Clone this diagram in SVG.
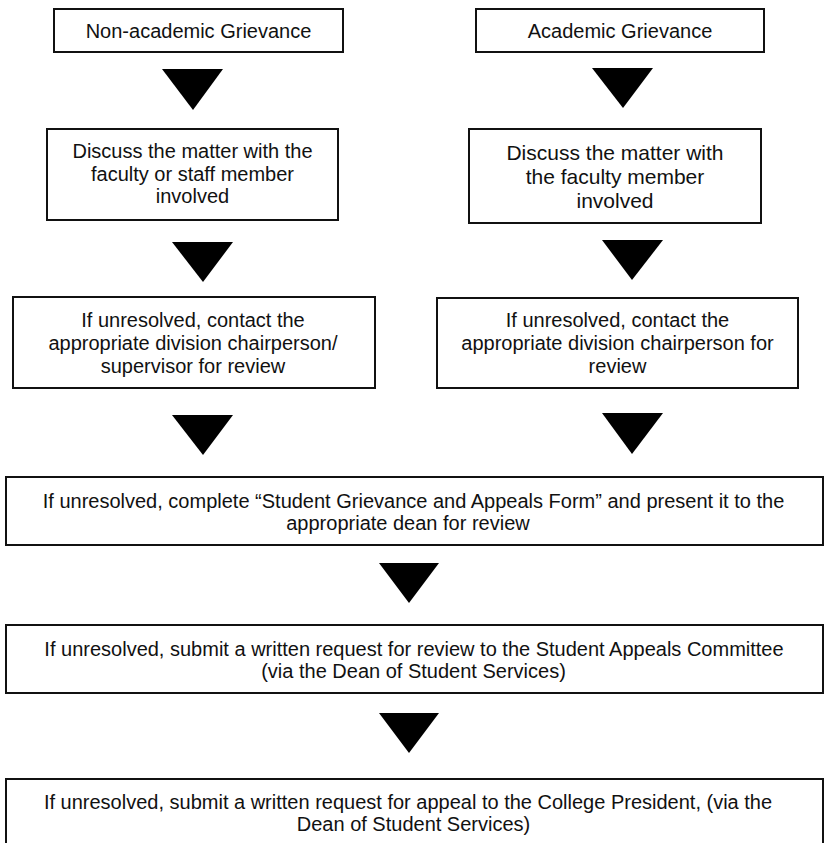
<svg xmlns="http://www.w3.org/2000/svg" width="825" height="843" viewBox="0 0 825 843">
  <style>
    .box { fill: #ffffff; stroke: #111111; stroke-width: 2; }
    .tx { font-family: "Liberation Sans", Arial, sans-serif; font-size: 20px; fill: #111111; text-anchor: middle; }
    .big { font-size: 21px; }
    .arrow { fill: #000000; stroke: none; }
  </style>
  <rect x="0" y="0" width="825" height="843" fill="#ffffff"/>

  <g id="connectors">
    <polygon class="arrow" points="162,69 223,69 193,110"/>
    <polygon class="arrow" points="172,242 233,242 203,282"/>
    <polygon class="arrow" points="172,415 233,415 203,455"/>
    <polygon class="arrow" points="592,68 653,68 623,108"/>
    <polygon class="arrow" points="602,240 663,240 632,280"/>
    <polygon class="arrow" points="602,413 663,413 632,454"/>
    <polygon class="arrow" points="379,563 439,563 409,603"/>
    <polygon class="arrow" points="379,713 439,713 409,753"/>
  </g>

  <g id="non-academic">
    <rect class="box" x="54" y="9" width="289" height="43"/>
    <text class="tx" x="198.5" y="38">Non-academic Grievance</text>
  </g>

  <g id="discuss-faculty-staff">
    <rect class="box" x="47" y="129" width="291" height="91"/>
    <text class="tx" x="192.5" y="157.5">Discuss the matter with the</text>
    <text class="tx" x="192.5" y="180.5">faculty or staff member</text>
    <text class="tx" x="192.5" y="203">involved</text>
  </g>

  <g id="contact-chair-supervisor">
    <rect class="box" x="13" y="297" width="362" height="91"/>
    <text class="tx" x="193" y="327">If unresolved, contact the</text>
    <text class="tx" x="193" y="350">appropriate division chairperson/</text>
    <text class="tx" x="193" y="373">supervisor for review</text>
  </g>

  <g id="academic">
    <rect class="box" x="476" y="9" width="288" height="43"/>
    <text class="tx" x="620" y="38">Academic Grievance</text>
  </g>

  <g id="discuss-faculty">
    <rect class="box" x="469" y="129" width="292" height="94"/>
    <text class="tx big" x="615" y="160">Discuss the matter with</text>
    <text class="tx big" x="615" y="184">the faculty member</text>
    <text class="tx big" x="615" y="208">involved</text>
  </g>

  <g id="contact-chair">
    <rect class="box" x="437" y="298" width="361" height="90"/>
    <text class="tx" x="617.5" y="327">If unresolved, contact the</text>
    <text class="tx" x="617.5" y="350">appropriate division chairperson for</text>
    <text class="tx" x="617.5" y="373">review</text>
  </g>

  <g id="dean-review">
    <rect class="box" x="6" y="477" width="817" height="68"/>
    <text class="tx" x="413.5" y="508">If unresolved, complete “Student Grievance and Appeals Form” and present it to the</text>
    <text class="tx" x="408" y="530">appropriate dean for review</text>
  </g>

  <g id="appeals-committee">
    <rect class="box" x="6" y="625" width="817" height="68"/>
    <text class="tx" x="414" y="656">If unresolved, submit a written request for review to the Student Appeals Committee</text>
    <text class="tx" x="413.5" y="678">(via the Dean of Student Services)</text>
  </g>

  <g id="college-president">
    <rect class="box" x="6" y="779" width="817" height="80"/>
    <text class="tx" x="408" y="809">If unresolved, submit a written request for appeal to the College President, (via the</text>
    <text class="tx" x="413.5" y="831">Dean of Student Services)</text>
  </g>
</svg>
